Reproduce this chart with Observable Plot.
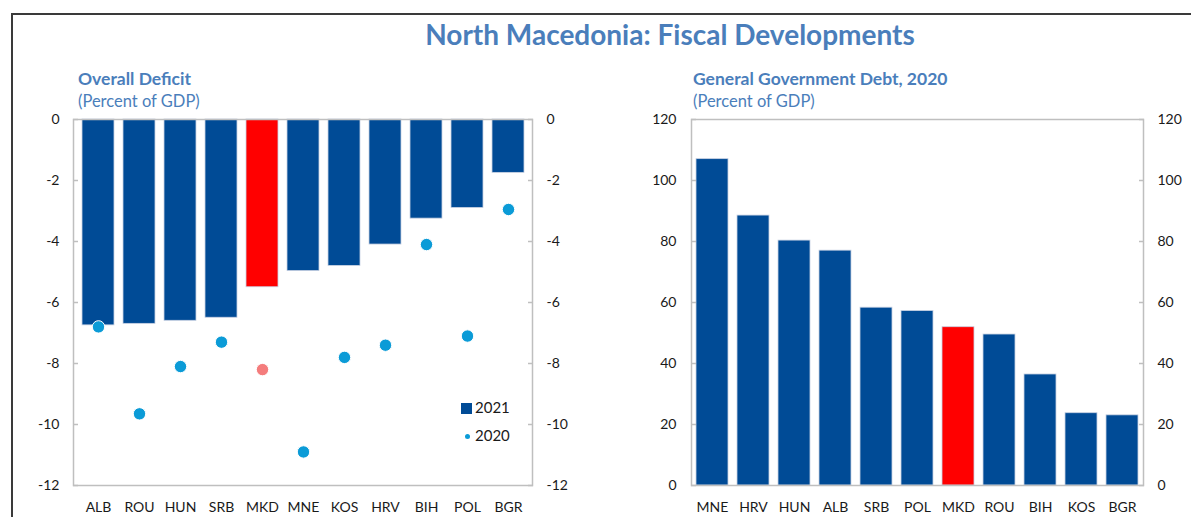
<!DOCTYPE html>
<html>
<head>
<meta charset="utf-8">
<script src="https://cdn.jsdelivr.net/npm/d3@7"></script>
<script src="https://cdn.jsdelivr.net/npm/@observablehq/plot@0.6"></script>
<style>
  html, body { margin: 0; padding: 0; background: #fff; }
  body { width: 1191px; height: 517px; overflow: hidden; position: relative; font-family: Lato, "Open Sans", sans-serif; }
  #border { position: absolute; left: 11px; top: 13px; width: 1300px; height: 700px; border: 2px solid #3a3a3a; box-sizing: border-box; }
  #title { position: absolute; left: 0; width: 1340px; top: 17px; text-align: center; font-size: 28px; font-weight: bold; color: #4a7ebb; }
  .sub { position: absolute; font-size: 17.5px; font-weight: bold; color: #4a7ebb; }
  .unit { position: absolute; font-size: 16.5px; color: #4a7ebb; }
  .panel { position: absolute; top: 100px; }
  .leg { position: absolute; font-size: 15px; color: #1a1a1a; }
</style>
</head>
<body>
<div id="border"></div>
<div id="title">North Macedonia: Fiscal Developments</div>
<div class="sub" style="left:78px; top:68px;">Overall Deficit</div>
<div class="unit" style="left:78px; top:91px;">(Percent of GDP)</div>
<div class="sub" style="left:693px; top:68px;">General Government Debt, 2020</div>
<div class="unit" style="left:693px; top:91px;">(Percent of GDP)</div>
<div id="left" class="panel" style="left:0px;"></div>
<div id="right" class="panel" style="left:600px;"></div>
<div id="legend"></div>
<script>
// ---- Data ----
const deficitCountries = ["ALB","ROU","HUN","SRB","MKD","MNE","KOS","HRV","BIH","POL","BGR"];
const deficit2021 = [-6.75,-6.7,-6.6,-6.5,-5.5,-4.97,-4.8,-4.1,-3.25,-2.9,-1.75];
const deficit2020 = [-6.8,-9.65,-8.1,-7.3,-8.2,-10.9,-7.8,-7.4,-4.1,-7.1,-2.95];
const debtCountries = ["MNE","HRV","HUN","ALB","SRB","POL","MKD","ROU","BIH","KOS","BGR"];
const debt2020 = [107,88.5,80.3,77,58.3,57.2,51.9,49.5,36.4,23.7,23.0];
const deficitTicks = [0,-2,-4,-6,-8,-10,-12];
const debtTicks = [0,20,40,60,80,100,120];
const highlight = "MKD";
const legendItems = ["2021","2020"];

const BLUE = "#004b96", RED = "#ff0000", DOT = "#0b9bd7", DOTRED = "#f47c7c";
const FRAME = "#bfbfbf", TEXT = "#1a1a1a";
const fmt = d => String(d);

const defData = deficitCountries.map((c,i) => ({c, v21: deficit2021[i], v20: deficit2020[i]}));
const debtData = debtCountries.map((c,i) => ({c, v: debt2020[i]}));

function axes(ticks, padL, padR) {
  return [
    Plot.axisY(ticks, {anchor: "left", tickSize: 0, tickPadding: padL, fill: TEXT, fontSize: 14, tickFormat: fmt}),
    Plot.axisY(ticks, {anchor: "right", tickSize: 0, tickPadding: padR, fill: TEXT, fontSize: 14, textAnchor: "start", tickFormat: fmt}),
    Plot.axisY(ticks, {anchor: "left", tickSize: 5, dx: 5, stroke: FRAME, strokeWidth: 1.5, tickFormat: () => ""}),
    Plot.axisY(ticks, {anchor: "right", tickSize: 5, dx: -5, stroke: FRAME, strokeWidth: 1.5, tickFormat: () => ""}),
    Plot.axisX({anchor: "bottom", tickSize: 0, tickPadding: 17, fill: TEXT, fontSize: 14, label: null})
  ];
}

const left = Plot.plot({
  width: 600, height: 417,
  marginLeft: 73, marginRight: 68, marginTop: 19, marginBottom: 32,
  style: {fontFamily: "Lato, 'Open Sans', sans-serif", fontSize: "14px", background: "transparent"},
  x: {domain: deficitCountries, paddingInner: 0.22, paddingOuter: 0.2, label: null, axis: null},
  y: {domain: [-12, 0], label: null, axis: null},
  marks: [
    Plot.barY(defData, {x: "c", y: "v21", fill: d => d.c === highlight ? RED : BLUE, stroke: "#c9d2e3", strokeWidth: 0.8}),
    Plot.dot(defData, {x: "c", y: "v20", r: 6.2, fill: d => d.c === highlight ? DOTRED : DOT, stroke: "#fff", strokeWidth: 1}),
    Plot.frame({stroke: FRAME, strokeWidth: 1.5}),
    ...axes(deficitTicks, 14, 14)
  ]
});
document.getElementById("left").append(left);

const right = Plot.plot({
  width: 591, height: 417,
  marginLeft: 91, marginRight: 48, marginTop: 19, marginBottom: 32,
  style: {fontFamily: "Lato, 'Open Sans', sans-serif", fontSize: "14px", background: "transparent"},
  x: {domain: debtCountries, paddingInner: 0.23, paddingOuter: 0.12, label: null, axis: null},
  y: {domain: [0, 120], label: null, axis: null},
  marks: [
    Plot.barY(debtData, {x: "c", y: "v", fill: d => d.c === highlight ? RED : BLUE, stroke: "#c9d2e3", strokeWidth: 0.8}),
    Plot.frame({stroke: FRAME, strokeWidth: 1.5}),
    ...axes(debtTicks, 15, 14)
  ]
});
document.getElementById("right").append(right);

// ---- Legend ----
const leg = document.getElementById("legend");
leg.innerHTML = `
  <div style="position:absolute;left:461px;top:403px;width:11px;height:11px;background:${BLUE}"></div>
  <div class="leg" style="left:475px;top:398px;">${legendItems[0]}</div>
  <div style="position:absolute;left:464.5px;top:433.5px;width:5px;height:5px;border-radius:50%;background:${DOT}"></div>
  <div class="leg" style="left:475px;top:426px;">${legendItems[1]}</div>
`;
</script>
</body>
</html>
